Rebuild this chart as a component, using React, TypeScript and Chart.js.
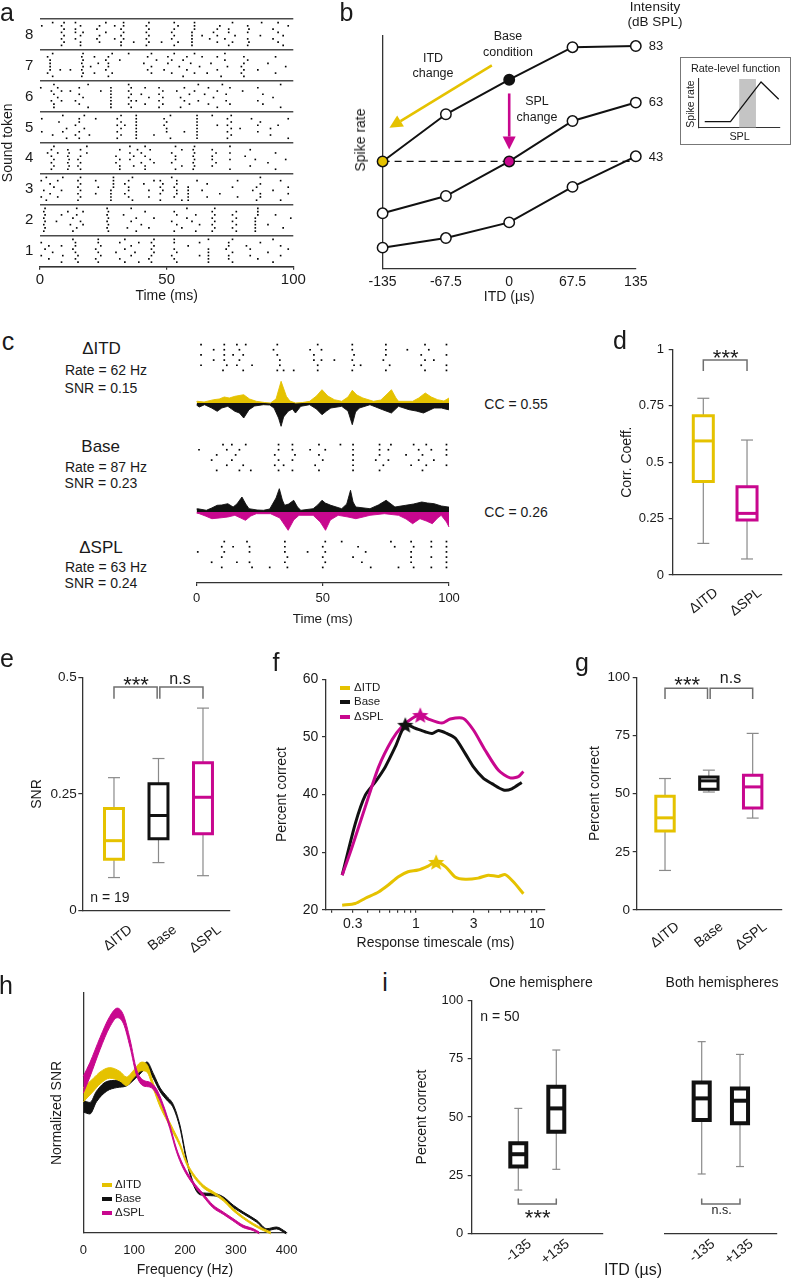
import React, { useEffect, useRef } from 'react';
import { Chart, registerables } from 'chart.js';

Chart.register(...registerables);

const FONT = "'Liberation Sans', Arial, Helvetica, sans-serif";
Chart.defaults.font.family = FONT;
Chart.defaults.color = '#1a1a1a';

const YEL = '#E5C200';
const MAG = '#C8078E';
const BLK = '#111111';
const AX = '#333333';
const WHISK = '#8a8a8a';
const BRK = '#6f6f6f';

// ---------- panel a : spike rasters, [time ms, trials that fired] ----------
const token1 = [[0.5,'37'],[2,'5'],[3.5,'26'],[5,'4'],[8.5,'16'],[9,'3'],[13,'58'],[14,'2467'],[15,'13'],[22,'25'],[23,'1478'],[24,'36'],[30,'4'],[31.5,'27'],[33.5,'158'],[36,'36'],[37.5,'4'],[39,'17'],[43,'2'],[44,'1357'],[45,'468'],[52,'3'],[53,'2578'],[54,'14'],[58.5,'6'],[63,'37'],[66.5,'123458'],[73.5,'5'],[74.5,'2367'],[76,'148'],[81.5,'6'],[83,'35'],[86,'2'],[87,'7'],[90,'4'],[92,'18'],[95,'36'],[98,'5']];
const token2 = [[1.5,'1357'],[2,'2468'],[6.5,'4'],[8.5,'6'],[11,'7'],[12,'3'],[13,'15'],[14.5,'268'],[16,'4'],[17,'37'],[26.5,'2468'],[27,'1357'],[33,'6'],[34.5,'2'],[36,'48'],[38,'15'],[40,'3'],[41.5,'7'],[43,'2'],[45,'5'],[52,'4'],[53,'17'],[54,'36'],[56,'2'],[58,'58'],[60,'4'],[61.5,'16'],[63,'3'],[68,'1357'],[69,'2468'],[76,'246'],[77.5,'1357'],[85,'12345'],[86,'678'],[90,'3'],[93,'6'],[96,'2'],[99,'5']];
const token3 = [[0.5,'27'],[1.5,'4'],[2.5,'18'],[4,'36'],[5.5,'5'],[7,'27'],[8.5,'4'],[9,'8'],[15,'1357'],[16,'2468'],[22,'37'],[23,'5'],[28,'1234'],[29,'5678'],[33.5,'36'],[35,'2457'],[36.5,'18'],[41,'6'],[43,'24'],[45,'7'],[47.5,'1357'],[48.5,'46'],[52,'8'],[53,'25'],[54,'3467'],[56,'1'],[58.5,'12345'],[62,'7'],[64,'4'],[66,'26'],[71,'3'],[76,'5'],[78,'27'],[84,'4'],[85.5,'15'],[87,'2368'],[92,'4'],[95,'17'],[98,'35']];
const token4 = [[3,'6'],[4.5,'1357'],[5.5,'248'],[7,'6'],[11,'1357'],[11.5,'246'],[15,'24'],[16,'1357'],[18.5,'68'],[30,'35'],[31.5,'1247'],[35.5,'468'],[37,'25'],[38.5,'7'],[40,'36'],[41.5,'1258'],[43.5,'47'],[45,'3'],[52,'36'],[53.5,'1458'],[56,'27'],[60.5,'1357'],[61,'2468'],[68,'2457'],[69.5,'36'],[75,'1468'],[81,'5'],[83,'27'],[85,'4'],[90,'3'],[93,'16'],[97,'4']];
const token5 = [[0.7,'37'],[5,'2'],[7.5,'6'],[9,'38'],[10.5,'14'],[14,'25'],[15.5,'1367'],[17.5,'48'],[19.5,'2'],[22,'7'],[30.5,'1357'],[32,'2468'],[33.5,'5'],[38,'12345678'],[45,'2'],[49,'57'],[50,'346'],[51.5,'18'],[57,'3'],[62,'12345678'],[68,'8'],[70,'5'],[74,'1357'],[75.5,'2468'],[79,'4'],[83.5,'7'],[86,'35'],[87,'6'],[91,'24'],[94,'5'],[98,'17']];
const token6 = [[0.3,'7'],[4.5,'36'],[5.5,'1258'],[7,'47'],[8.5,'36'],[12,'6'],[14,'3'],[15.5,'257'],[17,'4'],[19,'18'],[24,'6'],[28,'1234567'],[35,'2468'],[36,'1357'],[38,'3'],[40,'5'],[41.5,'27'],[43,'4'],[47,'1357'],[48.5,'246'],[54,'6'],[55.5,'14'],[57,'37'],[59,'25'],[61,'6'],[62.5,'38'],[65,'5'],[66.5,'27'],[68.5,'4'],[70,'16'],[72,'8'],[73.5,'35'],[75,'27'],[80,'6'],[86,'37'],[88,'25'],[92,'4'],[95,'18']];
const token7 = [[3,'27'],[4,'3456'],[5,'18'],[8,'3'],[12,'3'],[16.5,'1357'],[17,'2468'],[20,'4'],[21.5,'27'],[23,'5'],[26,'36'],[27,'1457'],[28.5,'28'],[31.5,'6'],[35,'8'],[41,'5'],[42.5,'37'],[44,'248'],[46,'6'],[49,'3'],[50.5,'57'],[52,'26'],[53,'8'],[55,'4'],[56.5,'16'],[58,'37'],[59.5,'5'],[61,'28'],[63,'4'],[64,'7'],[66,'2'],[67.5,'5'],[70,'37'],[71.5,'1'],[73,'68'],[74,'4'],[79.5,'24'],[80.5,'1357'],[82,'6'],[86,'3'],[90,'5'],[93,'27'],[97,'4']];
const token8 = [[0.7,'7'],[5,'8'],[8.5,'1357'],[9.5,'2468'],[14,'3568'],[16,'1247'],[17,'5'],[22.5,'36'],[23.5,'247'],[26,'58'],[29.5,'37'],[32,'1246'],[33,'3578'],[37,'2'],[42,'1357'],[43,'2468'],[48,'2'],[52,'35'],[53,'1468'],[54.5,'27'],[60,'12345'],[61,'678'],[64,'4'],[67,'3'],[68.5,'5'],[70,'246'],[71,'7'],[73,'3'],[74.5,'156'],[76,'28'],[77,'4'],[82,'1357'],[82.5,'26'],[87,'4'],[87.5,'8'],[92,'36'],[94,'258'],[96,'14'],[98,'7']];
const soundTokens = [token1, token2, token3, token4, token5, token6, token7, token8];
const tokenTicks = [0, 1, 2, 3, 4, 5, 6, 7, 8];
const timeTicks = [0, 50, 100];

// ---------- panel b ----------
const itdValues = [-135, -67.5, 0, 67.5, 135];
const itdTickLabels = ['-135', '-67.5', '0', '67.5', '135'];
const rate83 = [46, 66.2, 81, 94.9, 95.4];
const rate63 = [23.8, 31.2, 46, 63.3, 71.2];
const rate43 = [9.1, 13.2, 19.9, 35.1, 48.2];
const matchedRate = 46;
const itdArrow = { from: [-18.5, 87.1], to: [-127.7, 60.4] };
const splArrow = { from: [0, 75.1], to: [0, 51.1] };
const rlfLevel = [0.76, 3.95, 7.74, 9.93];
const rlfRate = [1.23, 1.23, 9.4, 5.86];
const rlfBand = [5.02, 7.11];

// ---------- panel c ----------
const rasterDITD = [[1.8,'246'],[6.8,'35'],[10.5,'1'],[11,'3456'],[12,'2'],[14.5,'4'],[16,'26'],[17,'35'],[18.5,'14'],[19.5,'6'],[22,'2'],[30.5,'5'],[32,'146'],[33,'23'],[34.5,'1'],[38.5,'1'],[45,'5'],[46.5,'34'],[48,'126'],[49.5,'35'],[54.6,'3'],[61.7,'1356'],[62.4,'24'],[65,'2'],[74,'3'],[75,'1456'],[76.5,'2'],[83.5,'5'],[89,'24'],[90.5,'136'],[92,'5'],[94,'3'],[99,'1246']];
const rasterBase = [[1,'5'],[6,'3'],[8,'14'],[10.5,'6'],[12,'25'],[14,'36'],[15.5,'4'],[17,'15'],[18.5,'2'],[19.5,'6'],[21.5,'1'],[31,'24'],[32.5,'1356'],[34.5,'2'],[38,'1356'],[39,'4'],[45,'5'],[47,'2'],[48.5,'146'],[50,'3'],[51,'5'],[57,'6'],[62,'123456'],[71,'3'],[72.5,'1456'],[74,'2'],[76,'35'],[77,'6'],[83,'4'],[85,'2'],[86,'6'],[88,'35'],[89.5,'14'],[91,'26'],[93,'5'],[94,'3'],[99,'2456']];
const rasterDSPL = [[0.5,'4'],[6,'2'],[10,'135'],[11,'46'],[14.5,'5'],[16,'2'],[20,'6'],[21,'245'],[22,'1'],[29,'1'],[35,'2456'],[36,'13'],[44,'4'],[50,'135'],[51,'246'],[57.5,'6'],[62,'3'],[64,'5'],[65.5,'2'],[67,'4'],[69,'1'],[77,'6'],[78.5,'5'],[80,'1'],[85,'2346'],[86,'15'],[93,'1356'],[99,'123456']];
const psthDITD = [[0,1.5],[0.4,1.7],[3,1],[6.8,3.3],[9,4],[11,6],[13,5],[15.2,6.7],[18.7,8.3],[21,4],[23.7,1.7],[27,0.5],[29.3,0],[31.5,4],[33.5,21.7],[35.6,6.7],[37,2],[39.2,0],[42,0.5],[44.8,1.7],[47.5,7],[49.7,13.3],[52,7],[54.6,3.3],[57.5,1.7],[60,6],[61.7,12.7],[63.5,8],[65.9,5],[70.1,1.7],[73,3],[75.5,9],[77.2,13.3],[79,5],[80,1.7],[85.6,1.7],[88,5],[90.6,10],[93,6],[95.5,3.3],[98,2],[100,5]];
const psthBaseVsITD = [[0,2],[1.1,4],[3.2,1.7],[6,5],[8.2,8.3],[10,5],[12.4,3.3],[15.2,8.3],[17,10],[18.7,15],[20.8,6.7],[23,3],[26.5,1.7],[29,2],[30.7,5],[32.5,15],[33.5,23.3],[34.5,14],[36.3,8.3],[38,6],[39.2,10],[41.3,3.3],[44.8,1.7],[47.5,6],[49.7,11.7],[51.5,8],[53.2,5],[57.5,3.3],[60,8],[61.7,21.7],[63,9],[64.5,5],[68.7,1.7],[71,4],[73.7,6.7],[77.2,10],[80,3.3],[84.2,6.7],[87,8],[89.9,10],[94.1,5],[97,5],[99.7,6.7],[100,6.7]];
const psthBaseVsSPL = [[0,3],[0.4,3.3],[3.9,1.7],[6,4],[8.2,6.7],[10,7],[12.4,8.3],[14.5,5],[16,8],[18,15],[19.5,8],[20.8,3.3],[24,2],[26.5,1.7],[29,3],[31.5,14],[32.8,23.3],[34,12],[34.9,6.7],[36.5,8],[38.5,11.7],[40,5],[41.3,1.7],[46.2,3.3],[48,7],[49.7,11.7],[51,9],[53.2,6.7],[57.5,3.3],[59.5,8],[61,21.7],[62,10],[63.1,5],[68.7,3.3],[72,7],[75.1,11.7],[78.6,5],[82.8,6.7],[86,8],[89.2,10],[91.5,9],[94.1,8.3],[97,6],[99.7,5],[100,5]];
const psthDSPL = [[0,1],[1.1,1.7],[3.5,4],[6.1,6.7],[9,6],[12.4,5],[15.2,3.3],[17.5,6],[19.4,8.3],[21.5,4],[23.7,1.7],[29.3,1.7],[33,6],[36.3,18.3],[38.5,8],[40.6,3.3],[46.2,3.3],[49,10],[51.1,18.3],[53,8],[56.1,3.3],[60,5],[63.1,6.7],[66,5],[68.7,3.3],[74.4,1.7],[80,3.3],[83,7],[85.6,11.7],[88.5,6.7],[91,9],[93.4,11.7],[95.5,6],[96.9,3.3],[99,10],[100,15]];

// ---------- panel d ----------
const corrLabels = ['\u0394ITD', '\u0394SPL'];
const corrDITD = [0.14, 0.414, 0.594, 0.706, 0.783];
const corrDSPL = [0.071, 0.244, 0.273, 0.391, 0.598];
const corrTicks = [0, 0.25, 0.5, 0.75, 1];

// ---------- panel e ----------
const condLabels = ['\u0394ITD', 'Base', '\u0394SPL'];
const snrDITD = [0.071, 0.11, 0.15, 0.219, 0.285];
const snrBase = [0.103, 0.154, 0.204, 0.272, 0.326];
const snrDSPL = [0.075, 0.165, 0.243, 0.317, 0.434];
const snrTicks = [0, 0.25, 0.5];

// ---------- panel f ----------
const tsBase = [0.245,0.315,0.381,0.461,0.557,0.675,0.816,0.987,1.19,1.36,1.54,1.8,2.11,2.56,2.99,3.62,4.25,5.3,6.21,7.51];
const pcBase = [26,35,39.9,42.2,44.8,48.3,52.1,51.5,50.9,50.6,51.1,50.6,49.8,47.1,44.8,42.8,41.9,40.8,41,42.1];
const tsDSPL = [0.245,0.296,0.381,0.491,0.634,0.766,0.927,1.086,1.27,1.64,1.92,2.47,2.99,3.74,4.82,6.02,7.05,7.75];
const pcDSPL = [26,30.9,37.9,44.8,49.5,51.8,53.2,53.8,53.1,52.4,53.1,53.2,51.2,47.7,44.2,42.9,43.1,44];
const tsDITD = [0.245,0.315,0.381,0.49,0.59,0.71,0.86,1.04,1.26,1.47,1.75,2.11,2.56,3.27,3.96,4.82,5.48,6.37,7.75];
const pcDITD = [20.8,21.1,22,23.1,24.3,25.7,26.6,26.9,27.6,28.3,27.5,25.7,25.3,25.5,26,25.8,26.1,24.9,22.8];
const fTicksX = [0.2,0.3,0.4,0.5,0.6,0.7,0.8,0.9,1,2,3,4,5,6,7,8,9,10];
const fLabelled = [0.3, 1, 3, 10];
const fTicksY = [20, 30, 40, 50, 60];

// ---------- panel g ----------
const pcBoxDITD = [17, 33.9, 39.6, 48.9, 56.5];
const pcBoxBase = [50.7, 51.9, 55.5, 57.2, 60.1];
const pcBoxDSPL = [39.5, 43.8, 52.9, 57.9, 75.9];
const pctTicks = [0, 25, 50, 75, 100];

// ---------- panel h ----------
const frqDSPL = [0,13,33,52,67,79,92,105,118,131,144,157,170,183,196,216,235,255,275,294,314,334,346];
const nsnrDSPL = [0.618,0.68,0.79,0.88,0.917,0.89,0.79,0.667,0.625,0.618,0.59,0.528,0.444,0.347,0.278,0.208,0.16,0.111,0.083,0.056,0.028,0.014,0];
const semDSPL = [0.035,0.03,0.025,0.022,0.02,0.018,0.016,0.012,0.012,0.01,0.01,0.008,0.008,0.007,0.007,0.006,0.006,0.006,0.005,0.005,0.005,0.004,0.004];
const frqDITD = [0,20,33,52,72,85,98,115,125,138,151,164,177,190,203,216,236,256,275,295,315,335,354,369];
const nsnrDITD = [0.576,0.618,0.646,0.667,0.653,0.632,0.66,0.694,0.687,0.611,0.535,0.479,0.424,0.368,0.292,0.243,0.194,0.167,0.139,0.097,0.063,0.035,0.014,0];
const semDITD = [0.03,0.027,0.025,0.022,0.02,0.018,0.016,0.018,0.016,0.012,0.01,0.009,0.008,0.007,0.006,0.006,0.006,0.005,0.005,0.005,0.004,0.004,0.004,0.004];
const frqBase = [0,13,26,46,66,85,102,115,125,138,151,164,177,190,203,216,230,256,275,295,315,341,361,380,399];
const nsnrBase = [0.528,0.52,0.569,0.611,0.621,0.625,0.653,0.68,0.701,0.653,0.597,0.562,0.528,0.444,0.306,0.208,0.164,0.16,0.146,0.111,0.083,0.049,0.014,0.021,0];
const semBase = [0.024,0.024,0.022,0.02,0.015,0.012,0.01,0.01,0.012,0.01,0.008,0.008,0.007,0.006,0.006,0.005,0.005,0.005,0.005,0.005,0.004,0.004,0.004,0.004,0.004];
const freqTicks = [0, 100, 200, 300, 400];

// ---------- panel i ----------
const itdSideLabels = ['-135', '+135'];
const oneHemiNeg = [18.6, 28.7, 34, 38.7, 53.7];
const oneHemiPos = [27.5, 43.7, 53.7, 63, 78.8];
const bothHemiNeg = [25.5, 48.7, 58, 64.8, 82.4];
const bothHemiPos = [28.7, 47.3, 57, 62.3, 76.9];

// ---------- layout (canvas boxes and plot areas, page px) ----------
const CV: any = {
  a: { x: 0, y: 0, w: 312, h: 305 },
  b: { x: 335, y: 25, w: 322, h: 285 },
  bi: { x: 681, y: 58, w: 109, h: 85 },
  c: { x: 170, y: 330, w: 295, h: 298 },
  d: { x: 600, y: 330, w: 192, h: 290 },
  e: { x: 0, y: 660, w: 245, h: 300 },
  f: { x: 265, y: 660, w: 290, h: 300 },
  g: { x: 570, y: 660, w: 222, h: 300 },
  h: { x: 0, y: 975, w: 305, h: 305 },
  i1: { x: 400, y: 990, w: 215, h: 290 },
  i2: { x: 615, y: 990, w: 177, h: 290 },
};
const AREA: any = {
  a: { l: 40, t: 19, r: 293.3, b: 266.7 },
  b: { l: 382.6, t: 35.3, r: 635.8, b: 268.9 },
  bi: { l: 698.6, t: 79, r: 779.3, b: 127.7 },
  c: { l: 196.5, t: 335, r: 449, b: 583 },
  d: { l: 672.7, t: 349.3, r: 782, b: 575 },
  e: { l: 82.3, t: 677.3, r: 230, b: 910.7 },
  f: { l: 326, t: 679.3, r: 545, b: 909.8 },
  g: { l: 636.7, t: 677.3, r: 782, b: 910 },
  h: { l: 83.3, t: 993, r: 286.7, b: 1233 },
  i1: { l: 471.7, t: 1000.7, r: 603, b: 1233.3 },
  i2: { l: 665, t: 1000.7, r: 777, b: 1233.3 },
};

const fitY = (w: number) => (s: any) => { s.width = w; s.paddingTop = 0; s.paddingBottom = 0; s.paddingLeft = 0; s.paddingRight = 0; };
const fitX = (h: number) => (s: any) => { s.height = h; s.paddingTop = 0; s.paddingBottom = 0; s.paddingLeft = 0; s.paddingRight = 0; };

function axis(p: any) {
  const tl = p.tickLen ?? 0;
  return {
    type: p.type ?? 'linear',
    display: true,
    min: p.min,
    max: p.max,
    afterBuildTicks: (s: any) => { if (p.ticks) s.ticks = p.ticks.map((v: number) => ({ value: v })); },
    ticks: {
      display: p.labels !== false,
      autoSkip: false,
      padding: p.pad ?? 3,
      font: { size: p.size ?? 14 },
      color: '#1a1a1a',
      callback: (v: any) => (p.fmt ? p.fmt(Number(v)) : String(v)),
      minRotation: p.rot ?? 0,
      maxRotation: p.rot ?? 0,
      labelOffset: p.labelOffset ?? 0,
    },
    grid: {
      display: tl > 0 || !!p.gridOnArea,
      drawOnChartArea: !!p.gridOnArea,
      drawTicks: tl > 0,
      tickLength: tl,
      color: p.gridColor ?? AX,
      lineWidth: p.gridWidth ?? 1.2,
    },
    border: { display: p.border !== false, color: AX, width: p.borderWidth ?? 1.3 },
    title: p.title
      ? { display: true, text: p.title, font: { size: p.titleSize ?? 14 }, color: '#1a1a1a', padding: p.titlePad ?? 0 }
      : { display: false },
  };
}

function opts(key: string, scales: any) {
  const cv = CV[key];
  const a = AREA[key];
  const yOn = scales.y && scales.y.display !== false;
  const xOn = scales.x && scales.x.display !== false;
  const yW = yOn ? a.l - cv.x : 0;
  const xH = xOn ? cv.y + cv.h - a.b : 0;
  if (yOn) scales.y.afterFit = fitY(yW);
  if (xOn) scales.x.afterFit = fitX(xH);
  return {
    responsive: false,
    maintainAspectRatio: false,
    animation: false,
    events: [],
    layout: {
      autoPadding: false,
      padding: { left: a.l - cv.x - yW, top: a.t - cv.y, right: cv.x + cv.w - a.r, bottom: cv.y + cv.h - a.b - xH },
    },
    plugins: { legend: { display: false }, tooltip: { enabled: false } },
    scales,
  };
}

const line = (data: any[], color: string, width: number, extra: any = {}) => ({
  type: 'line', data, borderColor: color, backgroundColor: color, borderWidth: width,
  pointRadius: 0, fill: false, tension: 0, clip: false, ...extra,
});
const dots = (data: any[], r = 1.2) => ({
  type: 'line', data, showLine: false, pointRadius: r, pointStyle: 'rect', pointBorderWidth: 0,
  pointBackgroundColor: '#000', borderColor: '#000', backgroundColor: '#000', clip: false,
});

function starImg(color: string, size = 18) {
  const c = document.createElement('canvas');
  c.width = size; c.height = size;
  const g = c.getContext('2d') as CanvasRenderingContext2D;
  g.fillStyle = color;
  g.beginPath();
  const R = size / 2 - 0.5, r = R * 0.45;
  for (let i = 0; i < 10; i++) {
    const ang = -Math.PI / 2 + (i * Math.PI) / 5;
    const rad = i % 2 === 0 ? R : r;
    const x = size / 2 + rad * Math.cos(ang), y = size / 2 + 0.8 + rad * Math.sin(ang);
    if (i === 0) g.moveTo(x, y); else g.lineTo(x, y);
  }
  g.closePath();
  g.fill();
  return c;
}

// ---------- panel builders ----------
function makeA() {
  const pts: any[] = [];
  soundTokens.forEach((tok: any[], i) => tok.forEach(([t, tr]) => {
    for (const ch of tr) pts.push({ x: t, y: i + (Number(ch) + 0.4) / 9.5 });
  }));
  const rowH = (AREA.a.b - AREA.a.t) / 8;
  return {
    type: 'line',
    data: { datasets: [dots(pts, 1.15)] },
    options: opts('a', {
      x: axis({ min: 0, max: 100, ticks: timeTicks, tickLen: 3, pad: 1, size: 15, title: 'Time (ms)', titlePad: { top: 0, bottom: 0.6 } }),
      y: axis({ min: 0, max: 8, ticks: tokenTicks, fmt: (v: number) => (v === 0 ? '' : String(v)), pad: 6.7, size: 15, labelOffset: rowH / 2, border: false, gridOnArea: true, gridColor: '#4a4a4a', gridWidth: 1.6, title: 'Sound token', titlePad: { top: 0, bottom: 0 } }),
    }),
  };
}

const arrowsPlugin = {
  id: 'bArrows',
  afterDatasetsDraw(chart: any) {
    const { ctx, scales } = chart;
    const X = scales.x, Y = scales.y;
    const list: any[] = [[itdArrow, YEL], [splArrow, MAG]];
    list.forEach(([a, col]) => {
      const x1 = X.getPixelForValue(a.from[0]), y1 = Y.getPixelForValue(a.from[1]);
      const x2 = X.getPixelForValue(a.to[0]), y2 = Y.getPixelForValue(a.to[1]);
      const ang = Math.atan2(y2 - y1, x2 - x1);
      const hl = 13, hw = 6.5;
      const bx = x2 - hl * Math.cos(ang), by = y2 - hl * Math.sin(ang);
      ctx.save();
      ctx.strokeStyle = col; ctx.fillStyle = col; ctx.lineWidth = 2.6;
      ctx.beginPath(); ctx.moveTo(x1, y1); ctx.lineTo(bx, by); ctx.stroke();
      ctx.beginPath();
      ctx.moveTo(x2, y2);
      ctx.lineTo(bx + hw * Math.sin(ang), by - hw * Math.cos(ang));
      ctx.lineTo(bx - hw * Math.sin(ang), by + hw * Math.cos(ang));
      ctx.closePath(); ctx.fill();
      ctx.restore();
    });
  },
};

function makeB() {
  const pts = (r: number[]) => itdValues.map((x, i) => ({ x, y: r[i] }));
  const mk = (r: number[], fills: string[]) => line(pts(r), BLK, 2, {
    pointRadius: 5.2, pointBorderWidth: 1.5, pointBorderColor: BLK, pointBackgroundColor: fills, pointStyle: 'circle',
  });
  const W = '#ffffff';
  return {
    type: 'line',
    data: {
      datasets: [
        mk(rate83, [YEL, W, BLK, W, W]),
        mk(rate63, [W, W, MAG, W, W]),
        mk(rate43, [W, W, W, W, W]),
        line([{ x: itdValues[0], y: matchedRate }, { x: itdValues[4], y: matchedRate }], BLK, 1.3, { borderDash: [7, 5] }),
      ],
    },
    options: opts('b', {
      x: axis({ min: -135, max: 135, ticks: itdValues, fmt: (v: number) => itdTickLabels[itdValues.indexOf(v)] ?? '', pad: 5.1, size: 14, title: 'ITD (\u00b5s)', titlePad: { top: 0, bottom: 4.1 } }),
      y: axis({ min: 0, max: 100, labels: false }),
    }),
    plugins: [arrowsPlugin],
  };
}

function makeBI() {
  return {
    type: 'line',
    data: {
      datasets: [
        line(rlfLevel.map((x, i) => ({ x, y: rlfRate[i] })), BLK, 1.3),
        line(rlfBand.map((x) => ({ x, y: 10 })), '#c4c4c4', 0, { fill: { value: 0 }, backgroundColor: '#c4c4c4' }),
      ],
    },
    options: opts('bi', {
      x: axis({ min: 0, max: 10, labels: false, borderWidth: 1.1 }),
      y: axis({ min: 0, max: 10, labels: false, borderWidth: 1.1 }),
    }),
  };
}

const C_TRIAL = 31 / 6;
const C_ROW = { itd: 210, base: 110, spl: 13 };
const C_BASE1 = 180;
const C_BASE2 = 71;

function makeC() {
  const tr = (rows: any[], base: number) => rows.flatMap(([t, s]: any) => s.split('').map((ch: string) => ({ x: t, y: base + (Number(ch) - 0.5) * C_TRIAL })));
  const area = (pts: number[][], base: number, sign: number, color: string) =>
    line(pts.map(([t, h]) => ({ x: t, y: base + sign * h })), color, 0.9, { fill: { value: base } });
  return {
    type: 'line',
    data: {
      datasets: [
        dots(tr(rasterDITD, C_ROW.itd), 1.2),
        dots(tr(rasterBase, C_ROW.base), 1.2),
        dots(tr(rasterDSPL, C_ROW.spl), 1.2),
        area(psthDITD, C_BASE1, 1, YEL),
        area(psthBaseVsITD, C_BASE1, -1, BLK),
        area(psthBaseVsSPL, C_BASE2, 1, BLK),
        area(psthDSPL, C_BASE2, -1, MAG),
      ],
    },
    options: opts('c', {
      x: axis({ min: 0, max: 100, ticks: timeTicks, tickLen: 3, pad: 4.2, size: 13, title: 'Time (ms)', titleSize: 13.5, titlePad: { top: 0, bottom: 0.5 } }),
      y: { type: 'linear', display: false, min: 0, max: AREA.c.b - AREA.c.t },
    }),
  };
}

function boxSets(stats: number[][], colors: string[], hw: number, cw: number, lw: number) {
  const out: any[] = [];
  stats.forEach((s, i) => {
    const x = i + 1;
    const [mn, q1, md, q3, mx] = s;
    const c = colors[i];
    out.push(line([{ x: x - hw, y: q1 }, { x: x + hw, y: q1 }, { x: x + hw, y: q3 }, { x: x - hw, y: q3 }, { x: x - hw, y: q1 }], c, lw, { borderCapStyle: 'square', borderJoinStyle: 'miter' }));
    out.push(line([{ x: x - hw, y: md }, { x: x + hw, y: md }], c, lw));
    out.push(line([{ x, y: q3 }, { x, y: mx }], WHISK, 1.2));
    out.push(line([{ x, y: mn }, { x, y: q1 }], WHISK, 1.2));
    out.push(line([{ x: x - cw, y: mx }, { x: x + cw, y: mx }], WHISK, 1.2));
    out.push(line([{ x: x - cw, y: mn }, { x: x + cw, y: mn }], WHISK, 1.2));
  });
  return out;
}
const bracketSets = (br: number[][]) => br.map(([x1, x2, top, leg]) =>
  line([{ x: x1, y: leg }, { x: x1, y: top }, { x: x2, y: top }, { x: x2, y: leg }], BRK, 1.5));

function makeBox(key: string, c: any) {
  const scales: any = {
    x: axis({ min: c.xmin, max: c.xmax, ticks: c.names.map((_: any, i: number) => i + 1), fmt: (v: number) => c.names[Math.round(v) - 1] ?? '', rot: 38, labelOffset: c.lo, pad: c.xpad, size: 14 }),
    y: c.showY === false
      ? { type: 'linear', display: false, min: c.ymin, max: c.ymax }
      : axis({ min: c.ymin, max: c.ymax, ticks: c.yticks, fmt: (v: number) => String(v), tickLen: 4, pad: c.ypad, size: c.ysize, title: c.ytitle, titlePad: { top: c.ytp, bottom: 0 } }),
  };
  return {
    type: 'line',
    data: { datasets: [...boxSets(c.stats, c.colors, c.hw, c.cw, c.lw), ...bracketSets(c.brackets)] },
    options: opts(key, scales),
  };
}

const makeD = () => makeBox('d', {
  stats: [corrDITD, corrDSPL], colors: [YEL, MAG], names: corrLabels, xmin: 0.3, xmax: 2.8, lo: 13, xpad: 9.5,
  ymin: 0, ymax: 1, yticks: corrTicks, ypad: 4.7, ysize: 13, ytitle: 'Corr. Coeff.', ytp: 18.6,
  hw: 0.229, cw: 0.137, lw: 3, brackets: [[1, 2, 0.953, 0.904]],
});
const makeE = () => makeBox('e', {
  stats: [snrDITD, snrBase, snrDSPL], colors: [YEL, BLK, MAG], names: condLabels, xmin: 0.288, xmax: 3.607, lo: 16.6, xpad: 10.9,
  ymin: 0, ymax: 0.5, yticks: snrTicks, ypad: 1.6, ysize: 13.5, ytitle: 'SNR', ytp: 28.6,
  hw: 0.213, cw: 0.135, lw: 3, brackets: [[1, 1.97, 0.479, 0.454], [2.03, 3, 0.479, 0.454]],
});
const makeG = () => makeBox('g', {
  stats: [pcBoxDITD, pcBoxBase, pcBoxDSPL], colors: [YEL, BLK, MAG], names: condLabels, xmin: 0.354, xmax: 3.669, lo: 12.6, xpad: 8.6,
  ymin: 0, ymax: 100, yticks: pctTicks, ypad: 2.7, ysize: 13.5, ytitle: 'Percent correct', ytp: 16.6,
  hw: 0.21, cw: 0.137, lw: 3, brackets: [[1, 1.97, 95.3, 90.7], [2.03, 3, 95.3, 90.7]],
});
const makeI1 = () => makeBox('i1', {
  stats: [oneHemiNeg, oneHemiPos], colors: [BLK, BLK], names: itdSideLabels, xmin: -0.226, xmax: 3.229, lo: 11.5, xpad: 2.5,
  ymin: 0, ymax: 100, yticks: pctTicks, ypad: 4.4, ysize: 13, ytitle: 'Percent correct', ytp: 13.6,
  hw: 0.21, cw: 0.105, lw: 4, brackets: [[1, 2, 12.6, 15]],
});
const makeI2 = () => makeBox('i2', {
  stats: [bothHemiNeg, bothHemiPos], colors: [BLK, BLK], names: itdSideLabels, xmin: 0.042, xmax: 2.966, lo: 11.5, xpad: 2.5,
  ymin: 0, ymax: 100, showY: false,
  hw: 0.21, cw: 0.105, lw: 4, brackets: [[1, 2, 12.6, 15]],
});

function makeF() {
  const ser = (t: number[], v: number[]) => t.map((x, i) => ({ x, y: v[i] }));
  const peak = (t: number[], v: number[], color: string) => {
    let k = 0;
    v.forEach((y, i) => { if (y > v[k]) k = i; });
    return { type: 'line', data: [{ x: t[k], y: v[k] }], showLine: false, pointStyle: starImg(color), pointRadius: 9, clip: false };
  };
  return {
    type: 'line',
    data: {
      datasets: [
        peak(tsDSPL, pcDSPL, MAG),
        peak(tsBase, pcBase, BLK),
        peak(tsDITD, pcDITD, YEL),
        line(ser(tsDSPL, pcDSPL), MAG, 3, { tension: 0.25, borderJoinStyle: 'round' }),
        line(ser(tsBase, pcBase), BLK, 3, { tension: 0.25, borderJoinStyle: 'round' }),
        line(ser(tsDITD, pcDITD), YEL, 3, { tension: 0.25, borderJoinStyle: 'round' }),
      ],
    },
    options: opts('f', {
      x: axis({ type: 'logarithmic', min: 0.18, max: 11.7, ticks: fTicksX, fmt: (v: number) => (fLabelled.some((u) => Math.abs(u - v) < 1e-9) ? String(v) : ''), tickLen: 3, pad: 3.2, size: 14, title: 'Response timescale (ms)', titlePad: { top: 0, bottom: 8.6 } }),
      y: axis({ min: 20, max: 60, ticks: fTicksY, tickLen: 4, pad: 3.7, size: 14, title: 'Percent correct', titlePad: { top: 8.6, bottom: 0 } }),
    }),
  };
}

function makeH() {
  const band = (f: number[], v: number[], se: number[], color: string) => [
    line(f.map((x, i) => ({ x, y: v[i] - se[i] })), color, 1, { tension: 0.4, cubicInterpolationMode: 'monotone' }),
    line(f.map((x, i) => ({ x, y: v[i] + se[i] })), color, 1, { tension: 0.4, cubicInterpolationMode: 'monotone', fill: '-1' }),
  ];
  return {
    type: 'line',
    data: {
      datasets: [
        ...band(frqDSPL, nsnrDSPL, semDSPL, MAG),
        ...band(frqDITD, nsnrDITD, semDITD, YEL),
        ...band(frqBase, nsnrBase, semBase, BLK),
      ],
    },
    options: opts('h', {
      x: axis({ min: 0, max: 400, ticks: freqTicks, pad: 9.2, size: 13, title: 'Frequency (Hz)', titlePad: { top: 0, bottom: 1.6 } }),
      y: axis({ min: 0, max: 1, labels: false, title: 'Normalized SNR', titlePad: { top: 48.6, bottom: 0 } }),
    }),
  };
}

// ---------- React ----------
function ChartCanvas({ k, make }: { k: string; make: () => any }) {
  const ref = useRef<HTMLCanvasElement | null>(null);
  const box = CV[k];
  useEffect(() => {
    if (!ref.current) return;
    const ch = new Chart(ref.current, make());
    return () => ch.destroy();
  }, []);
  return (
    <canvas ref={ref} width={box.w} height={box.h}
      style={{ position: 'absolute', left: box.x, top: box.y, width: box.w, height: box.h }} />
  );
}

function T({ x, y, s = 14, rot = 0, left = false, color = '#1a1a1a', children }: any) {
  return (
    <div style={{
      position: 'absolute', left: x, top: y,
      transform: `translate(${left ? '0' : '-50%'}, -50%) rotate(${rot}deg)`,
      fontFamily: FONT, fontSize: s, lineHeight: 1, whiteSpace: 'nowrap', color,
    }}>{children}</div>
  );
}

function Swatch({ x, y, color }: any) {
  return <div style={{ position: 'absolute', left: x, top: y - 2, width: 10, height: 4, background: color }} />;
}

export default function App() {
  return (
    <div style={{ position: 'absolute', left: 0, top: 0, width: 792, height: 1280, background: '#fff', overflow: 'hidden' }}>
      <ChartCanvas k="a" make={makeA} />
      <ChartCanvas k="b" make={makeB} />
      <div style={{ position: 'absolute', left: 679.5, top: 56.5, width: 111.5, height: 88, border: '1px solid #777', boxSizing: 'border-box' }} />
      <ChartCanvas k="bi" make={makeBI} />
      <ChartCanvas k="c" make={makeC} />
      <ChartCanvas k="d" make={makeD} />
      <ChartCanvas k="e" make={makeE} />
      <ChartCanvas k="f" make={makeF} />
      <ChartCanvas k="g" make={makeG} />
      <ChartCanvas k="h" make={makeH} />
      <ChartCanvas k="i1" make={makeI1} />
      <ChartCanvas k="i2" make={makeI2} />

      {/* panel letters */}
      <T x={7} y={12} s={25}>a</T>
      <T x={346.5} y={12} s={25}>b</T>
      <T x={8} y={341} s={25}>c</T>
      <T x={620} y={340} s={25}>d</T>
      <T x={7} y={658} s={25}>e</T>
      <T x={276} y={662} s={25}>f</T>
      <T x={582} y={662} s={25}>g</T>
      <T x={6} y={985} s={25}>h</T>
      <T x={385} y={982} s={25}>i</T>

      {/* panel b annotations */}
      <T x={655} y={7} s={13.5}>Intensity</T>
      <T x={655} y={22} s={13.5}>(dB SPL)</T>
      <T x={656} y={45.4} s={13}>83</T>
      <T x={656} y={100.8} s={13}>63</T>
      <T x={656} y={156.3} s={13}>43</T>
      <T x={508} y={36} s={12.5}>Base</T>
      <T x={508} y={52} s={12.5}>condition</T>
      <T x={433} y={57.8} s={12.5}>ITD</T>
      <T x={433} y={73.3} s={12.5}>change</T>
      <T x={537} y={100.8} s={12.5}>SPL</T>
      <T x={537} y={117} s={12.5}>change</T>
      <T x={360} y={139.5} s={14} rot={-90}>Spike rate</T>
      <T x={735.6} y={68.2} s={10.8}>Rate-level function</T>
      <T x={690.2} y={104.2} s={10.5} rot={-90}>Spike rate</T>
      <T x={739.6} y={136.1} s={10.8}>SPL</T>

      {/* panel c annotations */}
      <T x={101.5} y={348} s={17}>{'\u0394ITD'}</T>
      <T x={106} y={370} s={14}>Rate = 62 Hz</T>
      <T x={101} y={388} s={14}>SNR = 0.15</T>
      <T x={100.7} y={446} s={17}>Base</T>
      <T x={106} y={467} s={14}>Rate = 87 Hz</T>
      <T x={101} y={483} s={14}>SNR = 0.23</T>
      <T x={101} y={547} s={17}>{'\u0394SPL'}</T>
      <T x={106} y={567} s={14}>Rate = 63 Hz</T>
      <T x={101} y={583} s={14}>SNR = 0.24</T>
      <T x={516} y={404} s={14}>CC = 0.55</T>
      <T x={516} y={512} s={14}>CC = 0.26</T>

      {/* significance marks */}
      <T x={725.7} y={358.2} s={22}>***</T>
      <T x={136} y={685.4} s={22}>***</T>
      <T x={180} y={678.5} s={16}>n.s</T>
      <T x={110} y={897} s={14}>n = 19</T>
      <T x={687.2} y={685.4} s={22}>***</T>
      <T x={730.5} y={677.5} s={16}>n.s</T>
      <T x={537.7} y={1218} s={22}>***</T>
      <T x={721.7} y={1210} s={12.5}>n.s.</T>
      <T x={500} y={1016} s={14}>n = 50</T>
      <T x={541} y={982} s={14}>One hemisphere</T>
      <T x={722} y={982} s={14}>Both hemispheres</T>
      <T x={633} y={1270} s={16}>{'ITD (\u00b5s)'}</T>

      {/* legend f */}
      <Swatch x={340} y={688.3} color={YEL} />
      <Swatch x={340} y={701.7} color={BLK} />
      <Swatch x={340} y={716.7} color={MAG} />
      <T x={354} y={688.3} s={11.5} left>{'\u0394ITD'}</T>
      <T x={354} y={701.7} s={11.5} left>Base</T>
      <T x={354} y={716.7} s={11.5} left>{'\u0394SPL'}</T>

      {/* legend h */}
      <Swatch x={101.5} y={1185} color={YEL} />
      <Swatch x={101.5} y={1199} color={BLK} />
      <Swatch x={101.5} y={1213.3} color={MAG} />
      <T x={115} y={1185} s={11.5} left>{'\u0394ITD'}</T>
      <T x={115} y={1199} s={11.5} left>Base</T>
      <T x={115} y={1213.3} s={11.5} left>{'\u0394SPL'}</T>
    </div>
  );
}
